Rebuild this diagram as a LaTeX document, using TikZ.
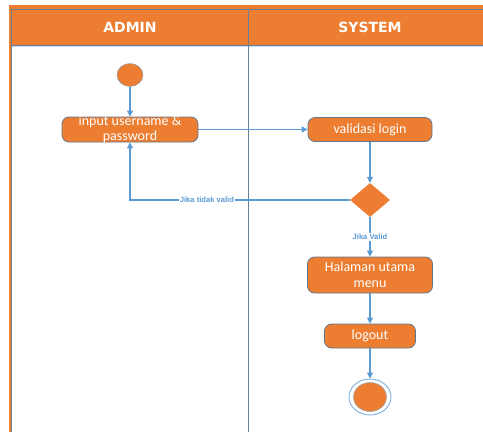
\documentclass[tikz,border=0pt]{standalone}
\usepackage{fontspec}
\setmainfont{Carlito}
\newfontfamily\headfont{DejaVu Sans}
\newfontfamily\guardfont{Liberation Sans}
\usetikzlibrary{shapes.geometric,arrows.meta}
\definecolor{actorange}{HTML}{ED7D31}
\definecolor{edgegrey}{HTML}{62778C}
\definecolor{flowblue}{HTML}{5B9BD5}
\definecolor{lanegrey}{HTML}{6A7F96}

\begin{document}
\begin{tikzpicture}[x=1pt,y=-1pt,
  activity/.style={rectangle, rounded corners=7pt, fill=actorange, draw=edgegrey,
    line width=0.8pt, inner sep=0pt},
  boxtext/.style={text=white, align=center, inner sep=0pt,
    font=\fontsize{14}{14.5}\selectfont},
  flow/.style={draw=flowblue, line width=1.1pt, -{Triangle[width=6pt,length=6pt]}},
  guard/.style={font=\guardfont\bfseries\fontsize{7.6}{8}\selectfont, text=flowblue, fill=white, inner sep=1pt},
  lanehead/.style={font=\headfont\bfseries\fontsize{14}{14}\selectfont, text=white},
  startdot/.style={ellipse, fill=actorange, draw=edgegrey!70, line width=0.5pt,
    minimum width=26pt, minimum height=23pt, inner sep=0pt}
]
\useasboundingbox (0,0) rectangle (483,432);

% swimlane frame and headers
\fill[actorange] (9,5) rectangle (483,9);
\fill[actorange] (9,5) rectangle (11,432);
\filldraw[fill=actorange, draw=lanegrey, line width=0.9pt] (11,9) rectangle (490,45);
\draw[flowblue!35, line width=1pt] (11,46.5) -- (483,46.5);
\draw[lanegrey, line width=0.9pt] (11,9) -- (11,432);
\draw[lanegrey, line width=1pt] (248,9) -- (248,432);
\node[lanehead] (admin) at (130,27) {ADMIN};
\node[lanehead] (system) at (370,27) {SYSTEM};

% activities
\node[startdot] (start) at (130,75) {};
\node[activity, minimum width=136pt, minimum height=25pt] (input) at (130,129.5) {};
\node[boxtext] at (input) {input username \&\\password};
\node[activity, minimum width=124pt, minimum height=24pt] (check) at (370,129.5) {};
\node[boxtext] at (check) {validasi login};
\node[diamond, fill=actorange, minimum width=40pt, minimum height=34pt, inner sep=0pt] (decide) at (370,200) {};
\node[activity, minimum width=125pt, minimum height=36pt] (menu) at (370,275) {};
\node[boxtext, font=\fontsize{14}{16}\selectfont] at (menu) {Halaman utama\\menu};
\node[activity, minimum width=91pt, minimum height=24pt] (logout) at (370,336) {};
\node[boxtext] at (logout) {logout};
\node[ellipse, draw=flowblue!80, line width=0.9pt, minimum width=42pt, minimum height=36pt, inner sep=0pt] (stop) at (370,397) {};
\node[ellipse, fill=actorange, draw=edgegrey!70, line width=0.5pt, minimum width=33pt, minimum height=29pt, inner sep=0pt] (stopdot) at (stop) {};

% control flow
\draw[flow] (start) -- (input);
\draw[flow] (input) -- (check);
\draw[flow] (check) -- (decide);
\draw[flow] (decide.west) -- node[guard, pos=0.65] {Jika tidak valid} (decide.west -| input.south) -- (input.south);
\draw[flow] (decide) -- node[guard] {Jika Valid} (menu);
\draw[flow] (menu) -- (logout);
\draw[flow] (logout) -- (stop);
\end{tikzpicture}
\end{document}
